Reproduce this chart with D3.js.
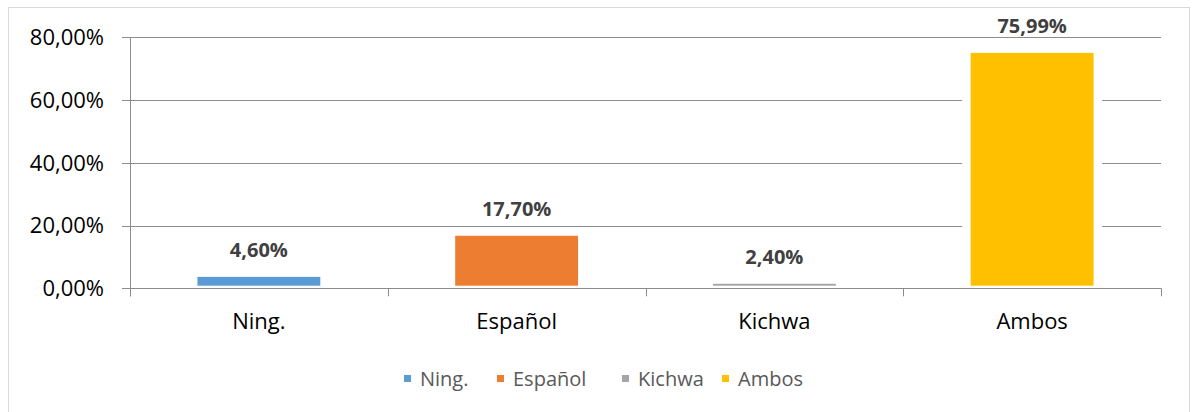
<!DOCTYPE html>
<html>
<head>
<meta charset="utf-8">
<script src="https://cdn.jsdelivr.net/npm/d3@7"></script>
<style>
  html, body { margin: 0; padding: 0; background: #fff; }
  svg { display: block; font-family: "Open Sans", sans-serif; }
</style>
</head>
<body>
<svg id="chart" width="1192" height="412"></svg>
<script>
const categories = ["Ning.", "Español", "Kichwa", "Ambos"];
const values = [4.60, 17.70, 2.40, 75.99];
const labels = ["4,60%", "17,70%", "2,40%", "75,99%"];
const colors = ["#5B9BD5", "#ED7D31", "#A5A5A5", "#FFC000"];
const yTicks = [0, 20, 40, 60, 80];
const yTickLabels = ["0,00%", "20,00%", "40,00%", "60,00%", "80,00%"];

const svg = d3.select("#chart");
const plot = { left: 130, right: 1161, top: 37.3, bottom: 288.3 };

// chart border
svg.append("rect")
  .attr("x", 8.5).attr("y", 7.5).attr("width", 1181).attr("height", 410)
  .attr("fill", "#fff").attr("stroke", "#d9d9d9").attr("stroke-width", 1);

const x = d3.scaleBand().domain(categories)
  .range([plot.left, plot.right]).paddingInner(0.5).paddingOuter(0.25);
const y = d3.scaleLinear().domain([0, 80]).range([plot.bottom, plot.top]);

// gridlines
svg.append("g").selectAll("line").data(yTicks.filter(d => d > 0)).join("line")
  .attr("x1", plot.left - 8).attr("x2", plot.right)
  .attr("y1", d => Math.round(y(d)) + 0.5).attr("y2", d => Math.round(y(d)) + 0.5)
  .attr("stroke", "#8c8c8c").attr("stroke-width", 1);

// bars: white outline behind, then fill inset
const bars = svg.append("g");
bars.selectAll("rect.bg").data(categories).join("rect").attr("class", "bg")
  .attr("x", d => x(d) - 5.5).attr("width", x.bandwidth() + 11)
  .attr("y", (d, i) => y(values[i]) - 5.5)
  .attr("height", (d, i) => y(0) - y(values[i]) + 5.5)
  .attr("fill", "#fff");
bars.selectAll("rect.bar").data(categories).join("rect").attr("class", "bar")
  .attr("x", d => x(d) + 3).attr("width", x.bandwidth() - 6)
  .attr("y", (d, i) => y(values[i]) + 3)
  .attr("height", (d, i) => Math.max(1.5, y(0) - y(values[i]) - 5.6))
  .attr("fill", (d, i) => colors[i]);

// y axis line + baseline + tick labels
svg.append("line")
  .attr("x1", plot.left + 0.5).attr("x2", plot.left + 0.5)
  .attr("y1", plot.top).attr("y2", plot.bottom + 8)
  .attr("stroke", "#8c8c8c");
svg.append("line")
  .attr("x1", plot.left - 8).attr("x2", plot.right)
  .attr("y1", Math.round(y(0)) + 0.5).attr("y2", Math.round(y(0)) + 0.5)
  .attr("stroke", "#8c8c8c");
svg.append("g").selectAll("text").data(yTicks).join("text")
  .attr("x", 104).attr("y", d => y(d)).attr("dy", "0.35em")
  .attr("text-anchor", "end").attr("font-size", 22).attr("fill", "#000")
  .text((d, i) => yTickLabels[i]);

// x ticks at category boundaries
const step = x.step();
const bounds = d3.range(categories.length + 1).map(i => plot.left + i * step);
svg.append("g").selectAll("line").data(bounds).join("line")
  .attr("x1", d => Math.round(d) + 0.5).attr("x2", d => Math.round(d) + 0.5)
  .attr("y1", y(0)).attr("y2", y(0) + 8)
  .attr("stroke", "#8c8c8c");

// category labels
svg.append("g").selectAll("text").data(categories).join("text")
  .attr("x", d => x(d) + x.bandwidth() / 2).attr("y", 329)
  .attr("text-anchor", "middle").attr("font-size", 22).attr("fill", "#000")
  .text(d => d);

// data labels
svg.append("g").selectAll("text").data(categories).join("text")
  .attr("x", d => x(d) + x.bandwidth() / 2)
  .attr("y", (d, i) => y(values[i]) - 17)
  .attr("text-anchor", "middle").attr("font-size", 20).attr("font-weight", "bold")
  .attr("fill", "#404040")
  .text((d, i) => labels[i]);

// legend
const legendX = [404, 497, 622, 722];
const lg = svg.append("g");
categories.forEach((c, i) => {
  lg.append("rect").attr("x", legendX[i]).attr("y", 375).attr("width", 7).attr("height", 7)
    .attr("fill", colors[i]);
  lg.append("text").attr("x", legendX[i] + 16).attr("y", 385.5)
    .attr("font-size", 20).attr("fill", "#595959").text(c);
});
</script>
</body>
</html>
